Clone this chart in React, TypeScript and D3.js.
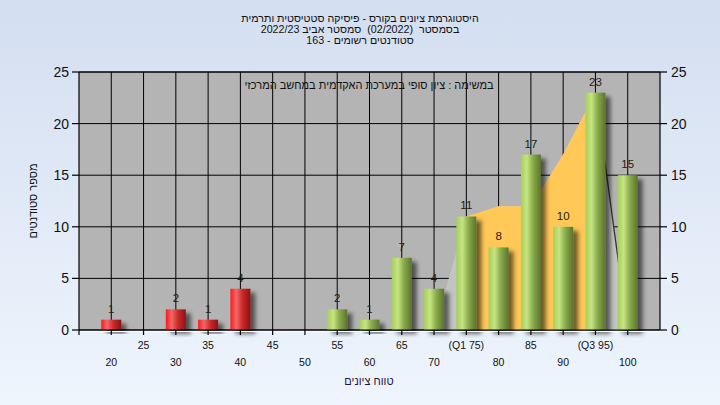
import React from "react";
import * as d3 from "d3";

const categories = [20, 25, 30, 35, 40, 45, 50, 55, 60, 65, 70, 75, 80, 85, 90, 95, 100];
const counts = [1, 0, 2, 1, 4, 0, 0, 2, 1, 7, 4, 11, 8, 17, 10, 23, 15];
const tickLabels = ["20", "25", "30", "35", "40", "45", "50", "55", "60", "65", "70", "(Q1 75)", "80", "85", "90", "(Q3 95)", "100"];
const yTicks = [0, 5, 10, 15, 20, 25];
const areaX = [70, 75, 80, 85, 90, 95, 100];
const areaY = [0, 11, 12, 12, 17, 23, 0];
const q1 = 75;
const q3 = 95;
const passGrade = 55;

const titleLines = [
  "היסטוגרמת ציונים בקורס - פיסיקה סטטיסטית ותרמית",
  "בסמסטר  (02/2022)  סמסטר אביב 2022/23",
  "סטודנטים רשומים - 163",
];
const noteText = "במשימה : ציון סופי במערכת האקדמית במחשב המרכזי";
const xTitle = "טווח ציונים";
const yTitle = "מספר סטודנטים";

const W = 720;
const H = 405;
const L = 79;
const R = 660;
const T = 72;
const B = 330;
const FONT = "'Liberation Sans', 'DejaVu Sans', sans-serif";

export default function App() {
  const x = d3.scaleLinear().domain([15, 105]).range([L, R]);
  const y = d3.scaleLinear().domain([0, 25]).range([B, T]);
  const barW = 20;

  const pts = areaX.map((v, i) => [v, areaY[i]] as [number, number]);
  const area = d3
    .area<[number, number]>()
    .x((d) => x(d[0]))
    .y0(y(0))
    .y1((d) => y(d[1]));
  const line = d3
    .line<[number, number]>()
    .x((d) => x(d[0]))
    .y((d) => y(d[1]));
  const hi = pts.filter((p) => p[0] >= q1 && p[0] <= q3);
  const tail = pts.filter((p) => p[0] >= q3);

  return (
    <svg
      width={W}
      height={H}
      style={{ position: "absolute", left: 0, top: 0, fontFamily: FONT }}
    >
      <defs>
        <linearGradient id="bg" x1="0" y1="0" x2="0" y2="1">
          <stop offset="0" stopColor="#d3def0" />
          <stop offset="1" stopColor="#eef5fd" />
        </linearGradient>
        <linearGradient id="gGreen" x1="0" y1="0" x2="1" y2="0">
          <stop offset="0" stopColor="#a6cf58" />
          <stop offset="0.3" stopColor="#c6e484" />
          <stop offset="0.6" stopColor="#8aac4a" />
          <stop offset="1" stopColor="#5a7430" />
        </linearGradient>
        <linearGradient id="gRed" x1="0" y1="0" x2="1" y2="0">
          <stop offset="0" stopColor="#ff1a1a" />
          <stop offset="0.3" stopColor="#f26868" />
          <stop offset="0.6" stopColor="#cc2a2a" />
          <stop offset="1" stopColor="#8a1414" />
        </linearGradient>
        <filter id="shadow" x="-50%" y="-20%" width="200%" height="150%">
          <feDropShadow dx="5" dy="4" stdDeviation="2" floodColor="#000" floodOpacity="0.55" />
        </filter>
      </defs>
      <rect x={0} y={0} width={W} height={H} fill="url(#bg)" />

      {/* titles */}
      {titleLines.map((t, i) => (
        <text
          key={i}
          x={360}
          y={22 + i * 11.2}
          textAnchor="middle"
          direction="rtl"
          fontSize={10.7}
          fill="#111"
          style={{ whiteSpace: "pre" }}
        >
          {t}
        </text>
      ))}

      {/* plot background */}
      <rect x={L} y={T} width={R - L} height={B - T} fill="#b4b4b4" />

      {/* grid */}
      {yTicks.map((t) => (
        <line key={"hy" + t} x1={L} x2={R} y1={y(t)} y2={y(t)} stroke="#000" strokeWidth={1} />
      ))}
      {categories.map((c) => (
        <line key={"vx" + c} x1={x(c)} x2={x(c)} y1={T} y2={B} stroke="#000" strokeWidth={1} />
      ))}

      {/* areas */}
      <path d={area(pts) || ""} fill="#c3c3c3" />
      <path d={area(hi) || ""} fill="#ffc857" />
      <path d={line(tail) || ""} fill="none" stroke="#333" strokeWidth={1.3} />

      {/* note */}
      <text x={369} y={89} textAnchor="middle" direction="rtl" fontSize={11} fill="#111">
        {noteText}
      </text>

      {/* bars */}
      {categories.map((c, i) =>
        counts[i] > 0 ? (
          <rect
            key={"b" + c}
            x={x(c) - barW / 2}
            y={y(counts[i])}
            width={barW}
            height={y(0) - y(counts[i])}
            fill={c < passGrade ? "url(#gRed)" : "url(#gGreen)"}
            filter="url(#shadow)"
          />
        ) : null
      )}
      {categories.map((c, i) =>
        counts[i] > 0 ? (
          <text
            key={"v" + c}
            x={x(c)}
            y={y(counts[i]) - 7}
            textAnchor="middle"
            fontSize={11.5}
            fill="#2a1a10"
          >
            {counts[i]}
          </text>
        ) : null
      )}

      {/* axes */}
      <line x1={L} x2={R} y1={B + 1.5} y2={B + 1.5} stroke="#fff" strokeWidth={1} />
      <line x1={L} x2={R} y1={B} y2={B} stroke="#000" strokeWidth={1.2} />
      <line x1={L} x2={L} y1={T} y2={B + 5} stroke="#000" strokeWidth={1.2} />
      <line x1={R} x2={R} y1={T} y2={B} stroke="#000" strokeWidth={1.2} />
      <line x1={L} x2={R} y1={T} y2={T} stroke="#000" strokeWidth={1.2} />
      {yTicks.map((t) => (
        <g key={"yt" + t}>
          <line x1={L - 7} x2={L} y1={y(t)} y2={y(t)} stroke="#000" strokeWidth={1.2} />
          <line x1={R} x2={R + 7} y1={y(t)} y2={y(t)} stroke="#000" strokeWidth={1.2} />
          <text x={L - 10} y={y(t) + 5} textAnchor="end" fontSize={14} fill="#111">
            {t}
          </text>
          <text x={R + 11} y={y(t) + 5} textAnchor="start" fontSize={14} fill="#111">
            {t}
          </text>
        </g>
      ))}
      {categories.map((c, i) => (
        <g key={"xt" + c}>
          <line x1={x(c)} x2={x(c)} y1={B} y2={B + 5} stroke="#000" strokeWidth={1.2} />
          <text
            x={x(c)}
            y={i % 2 === 1 ? 349 : 366}
            textAnchor="middle"
            fontSize={10.5}
            fill="#111"
            direction="ltr"
          >
            {tickLabels[i]}
          </text>
        </g>
      ))}

      <text x={369} y={385} textAnchor="middle" direction="rtl" fontSize={11} fill="#2a1040">
        {xTitle}
      </text>
      <text
        transform={`translate(37, ${(T + B) / 2}) rotate(-90)`}
        textAnchor="middle"
        direction="rtl"
        fontSize={11}
        fill="#111"
      >
        {yTitle}
      </text>
    </svg>
  );
}
